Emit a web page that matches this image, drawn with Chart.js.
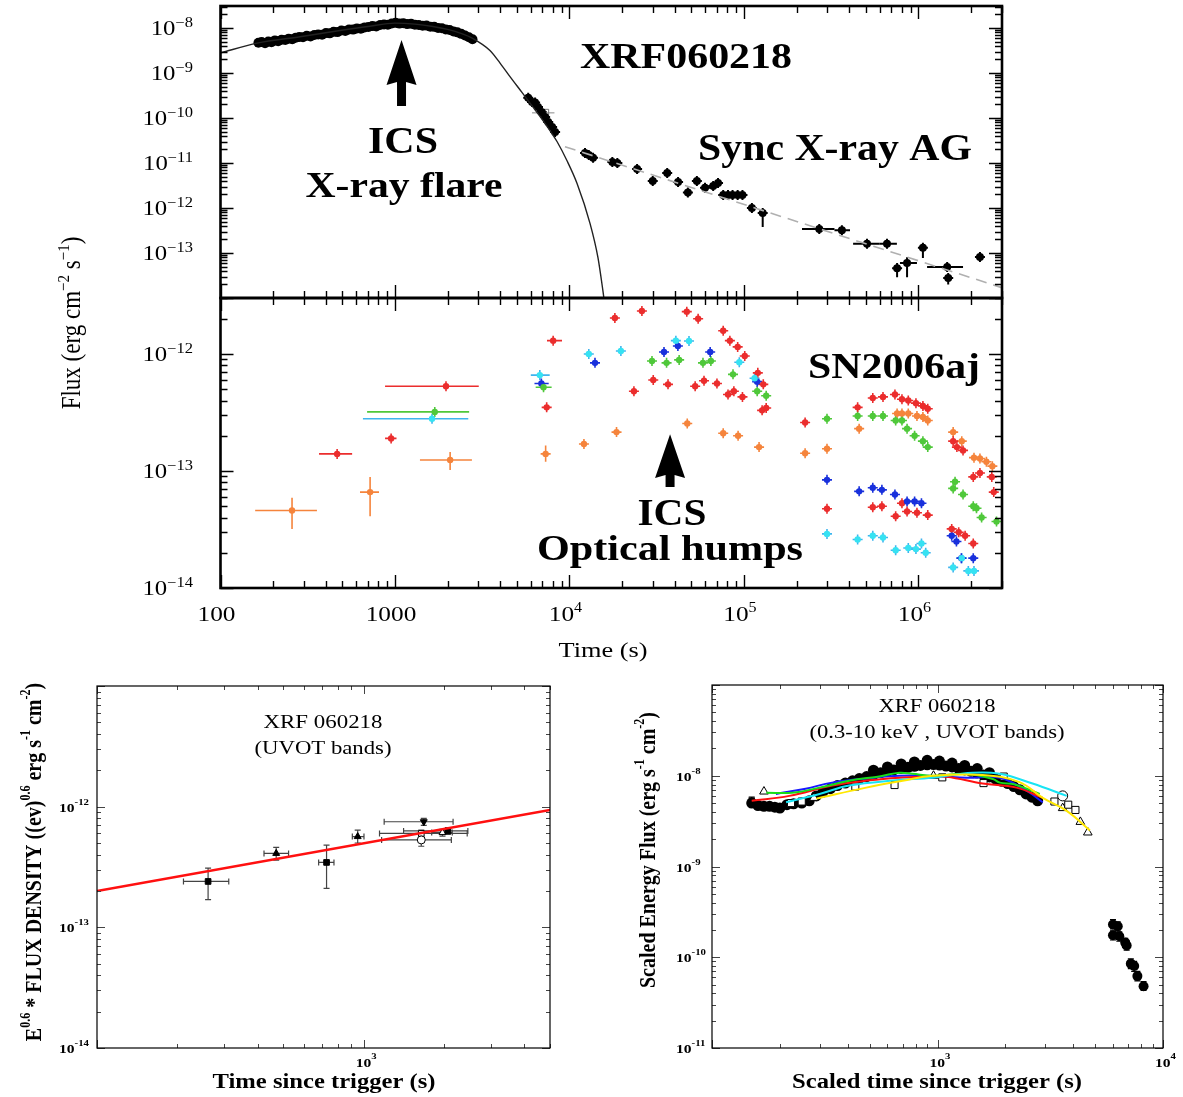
<!DOCTYPE html>
<html>
<head>
<meta charset="utf-8">
<title>XRF060218 / SN2006aj</title>
<script src="https://cdn.jsdelivr.net/npm/chart.js@4.4.1/dist/chart.umd.min.js"></script>
<style>
  html, body { margin: 0; padding: 0; background: #fff; }
  #fig { position: relative; width: 1183px; height: 1097px; overflow: hidden; }
  #fig canvas { position: absolute; left: 0; top: 0; }
</style>
</head>
<body>
<div id="fig">
  <canvas id="xray" width="1183" height="1097"></canvas>
  <canvas id="optical" width="1183" height="1097"></canvas>
  <canvas id="uvot" width="1183" height="1097"></canvas>
  <canvas id="scaled" width="1183" height="1097"></canvas>
</div>
<script>
// ---- top panel, upper part: X-ray light curve (time s, flux erg/cm2/s) ----
const flareT = [165,172,180,188,196,205,214,224,235,246,258,270,283,297,312,328,345,363,382,402,423,445,468,493,519,546,575,605,637,670,705,742,781,822,865,910,958,1008,1060,1116,1174,1236,1300,1368,1440,1515,1594,1677,1765,1857,1954,2056,2163,2276,2395,2520,2650,2780];
const flareF = [4.7e-9,4.9e-9,4.6e-9,5.0e-9,4.8e-9,5.3e-9,5.1e-9,5.5e-9,5.4e-9,5.8e-9,5.6e-9,6.1e-9,6.3e-9,6.2e-9,6.7e-9,6.5e-9,7.0e-9,7.2e-9,7.1e-9,7.7e-9,7.6e-9,8.2e-9,8.1e-9,8.8e-9,8.6e-9,9.3e-9,9.2e-9,9.8e-9,9.6e-9,1.03e-8,1.05e-8,1.1e-8,1.08e-8,1.16e-8,1.2e-8,1.18e-8,1.26e-8,1.3e-8,1.25e-8,1.28e-8,1.22e-8,1.24e-8,1.18e-8,1.17e-8,1.12e-8,1.13e-8,1.07e-8,1.06e-8,1.0e-8,9.9e-9,9.3e-9,9.0e-9,8.4e-9,8.0e-9,7.4e-9,6.8e-9,6.2e-9,5.6e-9];
const flareFitT = [100,162,286,484,700,1000,1300,1650,2000,2360,2800,3500,4000,4560,5340,6180,7240,8480,9680,11050,13120,14560,15560,16500];
const flareFitF = [2.8e-9,4.6e-9,6.4e-9,8.8e-9,1.08e-8,1.28e-8,1.22e-8,1.08e-8,9.3e-9,7.7e-9,5.8e-9,3.16e-9,1.66e-9,8.3e-10,3.7e-10,1.74e-10,7.6e-11,3.0e-11,1.12e-11,3.5e-12,4.5e-13,7.9e-14,1.4e-14,2.5e-15];
const agFitT = [9420, 3.0e6];
const agFitF = [2.3e-11, 1.7e-14];
// [t, F, tLo, tHi, FLo, FHi]
const xrayLate = [
  [5800,2.8e-10],[6100,2.27e-10],[6350,2.2e-10],[6600,1.75e-10],[6950,1.35e-10],[7250,1.05e-10],[7550,8.1e-11],[7950,6.3e-11],[8270,4.9e-11],
  [12270,1.66e-11],[12900,1.5e-11],[13650,1.3e-11],[17600,1.05e-11],[18800,1.0e-11],[24400,7.4e-12],[30000,4.0e-12],[36300,6.0e-12],
  [41900,3.8e-12],[47700,2.2e-12,null,null,1.7e-12,2.8e-12],[53700,4.0e-12],[59800,2.8e-12],[66600,3.1e-12],[71000,3.6e-12],
  [76000,1.95e-12],[81000,1.95e-12],[86000,1.95e-12],[92000,1.95e-12],[98000,1.95e-12],[111000,1.0e-12],
  [128000,7.7e-13,null,null,3.8e-13,1.0e-12],[270000,3.4e-13,215000,330000],[364000,3.2e-13,330000,405000],
  [507000,1.6e-13,422000,600000],[660000,1.6e-13,600000,752000],[754000,4.6e-14,null,null,2.9e-14,6.0e-14],
  [860000,6.0e-14,783000,980000,2.9e-14,8.0e-14],[1.06e6,1.3e-13,null,null,7.7e-14,1.66e-13],
  [1.46e6,4.9e-14,1.12e6,1.8e6],[1.48e6,2.8e-14,null,null,2.0e-14,3.5e-14],[2.25e6,8.1e-14]
];
const xrayOpen = [[7250,1.3e-10,6100,8200]];
const arrowXray = {t: 1090, tip: 5.4e-9, head: 5.4e-10, tail: 1.85e-10};

// ---- top panel, lower part: optical light curves of SN2006aj ----
const uvRed = [
  [466,1.4e-13,367,568],[950,1.9e-13,877,1020],[1960,5.3e-13,877,3020],[7400,3.5e-13],[8060,1.3e-12,7430,9060],
  [18200,2.03e-12],[23400,4.8e-13],[26000,2.33e-12],[30200,6.0e-13],[36700,5.5e-13],[47000,2.3e-12],[52500,5.3e-13],
  [54600,2.0e-12],[59000,5.9e-13],[70000,5.6e-13],[76000,1.58e-12],[81000,4.5e-13],[83000,1.3e-12],[87500,4.8e-13],
  [92000,1.15e-12],[98000,4.3e-13],[101000,9.6e-13],[120000,6.9e-13],[127000,3.3e-13],[129000,5.5e-13],[134000,3.45e-13],
  [224000,2.6e-13],[448000,3.5e-13],[547000,4.2e-13],[626000,4.3e-13],[733000,4.5e-13],[804000,4.1e-13],[874000,4.0e-13],
  [967000,3.8e-13],[1.06e6,3.6e-13],[1.13e6,3.4e-13],
  [299000,4.75e-14],[547000,4.9e-14],[617000,5.0e-14],[740000,4.1e-14],[804000,5.3e-14],[860000,4.5e-14],[980000,4.4e-14],[1.13e6,4.2e-14],
  [1.58e6,1.8e-13],[1.66e6,1.6e-13],[1.8e6,1.5e-13],[2.06e6,8.9e-14],[2.25e6,9.6e-14],[2.63e6,8.9e-14],[2.7e6,6.6e-14],
  [1.55e6,3.2e-14],[1.7e6,3.0e-14],[1.85e6,2.8e-14],[2.06e6,2.4e-14]
];
const uvOrange = [
  [257,4.6e-14,158,357,3.2e-14,5.9e-14],[720,6.6e-14,630,810,4.1e-14,8.9e-14],[2070,1.24e-13,1390,2760,1.02e-13,1.45e-13],
  [7300,1.4e-13,null,null,1.2e-13,1.65e-13],[12100,1.7e-13],[18600,2.15e-13],[47300,2.55e-13],[76000,2.1e-13],[92500,2.0e-13],
  [122000,1.6e-13],[224000,1.42e-13],[299000,1.55e-13],[457000,2.3e-13],[754000,3.1e-13],[804000,3.1e-13],[874000,3.1e-13],
  [980000,2.95e-13],[1.06e6,2.9e-13],[1.13e6,2.7e-13],[1.58e6,2.15e-13],[1.77e6,1.8e-13],[2.08e6,1.3e-13],[2.25e6,1.28e-13],
  [2.45e6,1.2e-13],[2.65e6,1.1e-13]
];
const uvGreen = [
  [1690,3.2e-13,692,2660],[7100,5.2e-13,6400,7900],[29700,8.7e-13],[36000,8.4e-13],[42500,8.9e-13],[58200,8.4e-13],[64600,8.7e-13],
  [86500,6.7e-13],[119000,4.8e-13],[134000,4.4e-13],[299000,2.8e-13],[448000,2.95e-13],[547000,2.95e-13],[626000,2.95e-13],
  [740000,2.7e-13],[804000,2.7e-13],[860000,2.3e-13],[950000,2.0e-13],[1.06e6,1.8e-13],[1.13e6,1.6e-13],
  [1.58e6,7.1e-14],[1.62e6,8.1e-14],[1.8e6,6.3e-14],[2.06e6,5.0e-14],[2.15e6,4.8e-14],[2.3e6,4.0e-14],[2.8e6,3.7e-14]
];
const uvCyan = [
  [1630,2.8e-13,655,2630],[6760,6.6e-13,6000,7700],[12900,1.0e-12],[19700,1.06e-12],[40700,1.3e-12],[48400,1.29e-12],
  [94000,8.5e-13],[115000,6.2e-13],[299000,2.9e-14],[448000,2.6e-14],[547000,2.8e-14],[626000,2.7e-14],[740000,2.1e-14],
  [874000,2.2e-14],[967000,2.15e-14],[1.04e6,2.4e-14],[1.1e6,2.0e-14],[1.58e6,1.5e-14],[1.77e6,1.8e-14],[1.93e6,1.4e-14],[2.08e6,1.4e-14]
];
const uvBlue = [
  [6900,5.6e-13,6300,7600],[14000,8.4e-13],[34800,1.04e-12],[41800,1.17e-12],[64000,1.04e-12],[119000,5.8e-13],
  [299000,8.4e-14],[457000,6.7e-14],[547000,7.2e-14],[617000,6.9e-14],[733000,6.3e-14],[860000,5.5e-14],[950000,5.5e-14],
  [1.04e6,5.3e-14],[1.55e6,2.8e-14],[1.65e6,2.5e-14],[1.76e6,1.8e-14],[2.06e6,1.8e-14]
];
const arrowOptical = {t: 37700, tip: 2.06e-13, head: 8.7e-14, tail: 7.3e-14};

// ---- bottom left: UVOT bands, E^0.6 * flux density ----
const uvotFitT = [100, 5000];
const uvotFitF = [2.0e-13, 9.4e-13];
const uvotSquare = [[261,2.4e-13,211,312,1.7e-13,3.1e-13],[726,3.45e-13,678,774,2.1e-13,4.8e-13],[2070,6.3e-13,1412,2460,5.9e-13,6.7e-13]];
const uvotTriUp = [[470,4.1e-13,423,523,3.6e-13,4.6e-13],[950,5.65e-13,907,1003,5.0e-13,6.4e-13]];
const uvotTriDown = [[1681,7.5e-13,1194,2165,7.0e-13,8.0e-13]];
const uvotOpenCircle = [[1645,5.3e-13,1168,2133,4.7e-13,5.7e-13]];
const uvotOpenSquare = [[1645,6.0e-13,1147,2446,5.6e-13,6.4e-13]];
const uvotOpenTri = [[1976,6.1e-13,1800,2150,5.7e-13,6.5e-13]];

// ---- bottom right: scaled energy flux, 0.3-10 keV and UVOT ----
const bandT = [150,160,170,180,190,200,215,230,250,270,290,310,335,360,390,420,450,485,520,560,600,640,690,740,790,840,900,960,1020,1090,1160,1240,1320,1410,1500,1600,1700,1810,1930,2050,2180,2320,2470,2620,2780];
const bandF = [5.0e-9,4.7e-9,4.6e-9,4.6e-9,4.5e-9,4.4e-9,4.8e-9,4.9e-9,5.0e-9,5.3e-9,6.0e-9,6.6e-9,7.2e-9,7.8e-9,8.3e-9,8.8e-9,9.3e-9,9.8e-9,1.03e-8,1.08e-8,1.12e-8,1.16e-8,1.2e-8,1.24e-8,1.27e-8,1.3e-8,1.32e-8,1.33e-8,1.31e-8,1.28e-8,1.25e-8,1.2e-8,1.16e-8,1.12e-8,1.07e-8,1.02e-8,9.7e-9,9.2e-9,8.7e-9,8.2e-9,7.6e-9,7.0e-9,6.3e-9,5.8e-9,5.3e-9];
const bandTopT = [520,600,690,790,900,1020,1160,1320,1500,1700];
const bandTopF = [1.15e-8,1.25e-8,1.35e-8,1.42e-8,1.48e-8,1.45e-8,1.38e-8,1.3e-8,1.2e-8,1.08e-8];
const lateBlack = [
  [6000,2.3e-10,null,null,2.05e-10,2.6e-10],[6000,1.75e-10,null,null,1.55e-10,1.95e-10],[6300,2.2e-10,null,null,1.95e-10,2.45e-10],
  [6400,1.7e-10,null,null,1.5e-10,1.9e-10],[6800,1.45e-10,null,null,1.28e-10,1.62e-10],[6900,1.35e-10,null,null,1.2e-10,1.5e-10],
  [7200,8.5e-11,null,null,7.5e-11,9.6e-11],[7450,8.0e-11,null,null,7.0e-11,9.0e-11],[7700,6.2e-11,null,null,5.5e-11,7.0e-11],
  [8200,4.8e-11,null,null,4.3e-11,5.4e-11]
];
const scRed = [[150,5.3e-9],[220,6.0e-9],[341,7.8e-9],[500,8.9e-9],[678,9.5e-9],[900,9.8e-9],[1100,9.75e-9],[1585,8.2e-9],[2240,7.4e-9],[2930,5.7e-9]];
const scBlue = [[192,6.3e-9],[260,7.2e-9],[341,8.4e-9],[500,9.4e-9],[678,1.0e-8],[1000,9.9e-9],[1345,9.5e-9],[1890,9.5e-9],[2490,6.8e-9],[2930,5.1e-9]];
const scGreen = [[174,6.5e-9],[227,6.5e-9],[300,7.4e-9],[406,8.8e-9],[560,9.9e-9],[678,1.08e-8],[775,1.05e-8],[950,1.0e-8],[1345,1.05e-8],[1760,9.2e-9],[1890,8.4e-9],[2200,8.0e-9],[2840,6.3e-9]];
const scCyan = [[213,5.1e-9],[300,6.3e-9],[406,7.8e-9],[650,8.9e-9],[950,9.5e-9],[1430,1.08e-8],[1890,1.05e-8],[2640,8.2e-9],[3740,6.0e-9]];
const scYellow = [[290,5.6e-9],[483,7.4e-9],[700,8.8e-9],[950,1.0e-8],[1585,1.02e-8],[2310,8.5e-9],[2930,5.7e-9],[3740,4.1e-9],[4740,2.5e-9]];
const scOpenSquare = [[224,5.0e-9],[250,5.2e-9],[432,7.6e-9],[645,7.9e-9],[1050,9.6e-9],[1600,8.3e-9],[1966,9.8e-9],[3300,5.2e-9],[3800,4.8e-9],[4090,4.2e-9]];
const scOpenTri = [[170,6.7e-9],[283,5.7e-9],[960,1.0e-8],[3590,4.4e-9],[4300,3.1e-9],[4640,2.37e-9]];
const scOpenCircle = [[3590,6.0e-9]];
const scSquare = [[150,5.3e-9,null,null,4.9e-9,5.8e-9]];

// ---------------- helpers ----------------
const W = 1183, H = 1097;
const SERIF = '"Liberation Serif", "Times New Roman", serif';
const zip = (t, f) => t.map((v, i) => ({x: v, y: f[i]}));
const pts = rows => rows.map(r => ({x: r[0], y: r[1], xl: r[2], xh: r[3], yl: r[4], yh: r[5]}));

// text made of runs [text, size, weight, rise]; the figure is a little stretched sideways
function rich(ctx, parts, x, y, o) {
  ctx.save();
  ctx.fillStyle = '#000';
  ctx.textBaseline = 'alphabetic';
  const fonts = parts.map(p => (p[2] || 'normal') + ' ' + p[1] + 'px ' + SERIF);
  let w = 0;
  const ws = parts.map((p, i) => { ctx.font = fonts[i]; const m = ctx.measureText(p[0]).width; w += m; return m; });
  const sx = o.w ? o.w / w : (o.sx || 1);
  ctx.translate(x, y);
  ctx.scale(sx, 1);
  if (o.rot) ctx.rotate(o.rot);
  let cx = o.align === 'center' ? -w / 2 : o.align === 'right' ? -w : 0;
  parts.forEach((p, i) => { ctx.font = fonts[i]; ctx.fillText(p[0], cx, -(p[3] || 0)); cx += ws[i]; });
  ctx.restore();
}

function drawArrow(chart, a, headHalf, shaftHalf) {
  const ctx = chart.ctx, xs = chart.scales.x, ys = chart.scales.y;
  const x = xs.getPixelForValue(a.t), tip = ys.getPixelForValue(a.tip);
  const head = ys.getPixelForValue(a.head), tail = ys.getPixelForValue(a.tail);
  ctx.save();
  ctx.fillStyle = '#000';
  ctx.beginPath();
  ctx.moveTo(x, tip);
  ctx.lineTo(x + headHalf, head);
  ctx.lineTo(x + shaftHalf, head - 3);
  ctx.lineTo(x + shaftHalf, tail);
  ctx.lineTo(x - shaftHalf, tail);
  ctx.lineTo(x - shaftHalf, head - 3);
  ctx.lineTo(x - headHalf, head);
  ctx.closePath();
  ctx.fill();
  ctx.restore();
}

function logTicks(min, max) {
  const out = [];
  for (let d = Math.floor(Math.log10(min)); d <= Math.ceil(Math.log10(max)); d++) {
    for (let m = 1; m <= 9; m++) {
      const v = m * Math.pow(10, d);
      if (v >= min * 0.999 && v <= max * 1.001) out.push({v, major: m === 1});
    }
  }
  return out;
}

// error bars (and small crosses) drawn under the points
const errorBars = {
  id: 'errorBars',
  beforeDatasetsDraw(chart) {
    const {ctx, chartArea: a} = chart;
    const xs = chart.scales.x, ys = chart.scales.y;
    ctx.save();
    ctx.beginPath();
    ctx.rect(a.left, a.top, a.right - a.left, a.bottom - a.top);
    ctx.clip();
    chart.data.datasets.forEach(ds => {
      if (!ds.errColor) return;
      ctx.strokeStyle = ds.errColor;
      ctx.lineWidth = ds.errWidth || 1;
      const cap = ds.errCap || 0, arm = ds.cross || 0;
      ds.data.forEach(p => {
        const px = xs.getPixelForValue(p.x), py = ys.getPixelForValue(p.y);
        ctx.beginPath();
        if (arm) {
          ctx.moveTo(px - arm, py); ctx.lineTo(px + arm, py);
          ctx.moveTo(px, py - arm); ctx.lineTo(px, py + arm);
        }
        if (p.xl) {
          const l = xs.getPixelForValue(p.xl), r = xs.getPixelForValue(p.xh);
          ctx.moveTo(l, py); ctx.lineTo(r, py);
          if (cap) { ctx.moveTo(l, py - cap); ctx.lineTo(l, py + cap); ctx.moveTo(r, py - cap); ctx.lineTo(r, py + cap); }
        }
        if (p.yl) {
          const b = ys.getPixelForValue(p.yl), t = ys.getPixelForValue(p.yh);
          ctx.moveTo(px, b); ctx.lineTo(px, t);
          if (cap) { ctx.moveTo(px - cap, b); ctx.lineTo(px + cap, b); ctx.moveTo(px - cap, t); ctx.lineTo(px + cap, t); }
        }
        ctx.stroke();
      });
    });
    ctx.restore();
  }
};

// frame with inward ticks on all four sides
function framePlugin(o) {
  return {
    id: 'frame',
    afterDatasetsDraw(chart) {
      const {ctx, chartArea: a} = chart;
      const xs = chart.scales.x, ys = chart.scales.y;
      ctx.save();
      ctx.strokeStyle = o.tickColor;
      ctx.lineWidth = o.tickWidth;
      ctx.beginPath();
      logTicks(xs.min, xs.max).forEach(t => {
        const px = Math.round(xs.getPixelForValue(t.v)) + 0.5, L = t.major ? o.major : o.minor;
        ctx.moveTo(px, a.bottom); ctx.lineTo(px, a.bottom - L);
        ctx.moveTo(px, a.top); ctx.lineTo(px, a.top + L);
      });
      logTicks(ys.min, ys.max).forEach(t => {
        const py = Math.round(ys.getPixelForValue(t.v)) + 0.5, L = t.major ? o.major : o.minor;
        ctx.moveTo(a.left, py); ctx.lineTo(a.left + L, py);
        ctx.moveTo(a.right, py); ctx.lineTo(a.right - L, py);
      });
      ctx.stroke();
      ctx.strokeStyle = o.frameColor;
      ctx.lineWidth = o.frameWidth;
      ctx.strokeRect(a.left, a.top, a.right - a.left, a.bottom - a.top);
      ctx.restore();
    }
  };
}

function makeChart(id, area, xr, yr, datasets, plugins) {
  return new Chart(document.getElementById(id), {
    type: 'scatter',
    data: {datasets},
    options: {
      responsive: false,
      animation: false,
      events: [],
      layout: {padding: {left: area.l, top: area.t, right: W - area.r, bottom: H - area.b}},
      scales: {
        x: {type: 'logarithmic', min: xr[0], max: xr[1], display: false},
        y: {type: 'logarithmic', min: yr[0], max: yr[1], display: false}
      },
      plugins: {legend: {display: false}, tooltip: {enabled: false}}
    },
    plugins: [errorBars].concat(plugins)
  });
}

const topFrame = {tickColor: '#000', tickWidth: 1.4, major: 13, minor: 7, frameColor: '#000', frameWidth: 2.6};
const lowFrame = {tickColor: '#444', tickWidth: 1, major: 8, minor: 4, frameColor: '#000', frameWidth: 1.2};

// ---------------- top panel, upper part ----------------
makeChart('xray', {l: 220.5, r: 1002, t: 6, b: 298}, [100, 3.01e6], [1e-14, 3.08e-8], [
  {data: zip(flareFitT, flareFitF), showLine: true, borderColor: '#222', borderWidth: 1.4, pointRadius: 0, cubicInterpolationMode: 'monotone'},
  {data: zip(agFitT, agFitF), showLine: true, borderColor: '#b0b0b0', borderWidth: 1.6, borderDash: [11, 7], pointRadius: 0},
  {data: zip(flareT, flareF), pointRadius: 5, backgroundColor: '#000', borderWidth: 0},
  {data: pts(xrayLate), pointRadius: 4, backgroundColor: '#000', borderWidth: 0, errColor: '#000', errWidth: 2, cross: 5},
  {data: pts(xrayOpen), pointStyle: 'rect', pointRadius: 5, backgroundColor: 'rgba(255,255,255,0)', borderColor: '#777', borderWidth: 1, errColor: '#888', errWidth: 1}
], [framePlugin(topFrame), {
  id: 'xrayLabels',
  afterDraw(chart) {
    const ctx = chart.ctx, ys = chart.scales.y;
    for (let d = -13; d <= -8; d++) {
      const py = ys.getPixelForValue(Math.pow(10, d));
      rich(ctx, [['10', 21], ['\u2212' + (-d), 14, 'normal', 8]], 193, py + 7, {align: 'right', sx: 1.18});
    }
    rich(ctx, [['XRF060218', 35, 'bold']], 686, 68, {align: 'center', w: 212});
    rich(ctx, [['ICS', 38, 'bold']], 403, 153, {align: 'center', w: 70});
    rich(ctx, [['X-ray flare', 36, 'bold']], 404, 197, {align: 'center', w: 197});
    rich(ctx, [['Sync X-ray AG', 37, 'bold']], 835, 160, {align: 'center', w: 274});
    drawArrow(chart, arrowXray, 15, 4.5);
    // shared y title of the top figure
    rich(ctx, [['Flux (erg cm', 23], ['\u22122', 15, 'normal', 9], [' s', 23], ['\u22121', 15, 'normal', 9], [')', 23]],
      80, 323, {align: 'center', rot: -Math.PI / 2, sx: 1.18});
  }
}]);

// ---------------- top panel, lower part ----------------
const optStyle = c => ({pointRadius: 3.2, backgroundColor: c, borderWidth: 0, errColor: c, errWidth: 1.6, cross: 5});
makeChart('optical', {l: 220.5, r: 1002, t: 298, b: 588}, [100, 3.01e6], [1e-14, 3.01e-12], [
  Object.assign({data: pts(uvOrange)}, optStyle('#f5843c')),
  Object.assign({data: pts(uvCyan)}, optStyle('#36e2f2'), {errColor: '#3fb4ee'}),
  Object.assign({data: pts(uvGreen)}, optStyle('#4fc83a')),
  Object.assign({data: pts(uvBlue)}, optStyle('#1830dc')),
  Object.assign({data: pts(uvRed)}, optStyle('#eb2d2d'))
], [framePlugin(topFrame), {
  id: 'opticalLabels',
  afterDraw(chart) {
    const ctx = chart.ctx, xs = chart.scales.x, ys = chart.scales.y;
    for (let d = -14; d <= -12; d++) {
      const py = ys.getPixelForValue(Math.pow(10, d));
      rich(ctx, [['10', 21], ['\u2212' + (-d), 14, 'normal', 8]], 193, py + 7, {align: 'right', sx: 1.18});
    }
    for (let d = 2; d <= 6; d++) {
      const px = xs.getPixelForValue(Math.pow(10, d)) - 4;
      const parts = d === 2 ? [['100', 22]] : d === 3 ? [['1000', 22]] : [['10', 22], [String(d), 14, 'normal', 9]];
      rich(ctx, parts, px, 621, {align: 'center', sx: 1.15});
    }
    rich(ctx, [['Time (s)', 22]], 603, 657, {align: 'center', w: 89});
    rich(ctx, [['SN2006aj', 35, 'bold']], 894, 378, {align: 'center', w: 172});
    rich(ctx, [['ICS', 38, 'bold']], 672, 525, {align: 'center', w: 69});
    rich(ctx, [['Optical humps', 35, 'bold']], 670, 560, {align: 'center', w: 266});
    drawArrow(chart, arrowOptical, 15, 4.5);
  }
}]);

// ---------------- bottom left: UVOT ----------------
const uvMark = (style, fill, rot) => ({pointStyle: style, pointRadius: 4, pointRotation: rot || 0, backgroundColor: fill, borderColor: '#000', borderWidth: 1, errColor: '#444', errWidth: 1.2, errCap: 3});
makeChart('uvot', {l: 97, r: 550, t: 686, b: 1048}, [100, 5000], [1e-14, 1e-11], [
  {data: zip(uvotFitT, uvotFitF), showLine: true, borderColor: '#ff1010', borderWidth: 2.6, pointRadius: 0},
  Object.assign({data: pts(uvotSquare)}, uvMark('rect', '#000')),
  Object.assign({data: pts(uvotTriUp)}, uvMark('triangle', '#000')),
  Object.assign({data: pts(uvotTriDown)}, uvMark('triangle', '#000', 180)),
  Object.assign({data: pts(uvotOpenCircle)}, uvMark('circle', '#fff')),
  Object.assign({data: pts(uvotOpenSquare)}, uvMark('rect', '#fff')),
  Object.assign({data: pts(uvotOpenTri)}, uvMark('triangle', '#fff'))
], [framePlugin(lowFrame), {
  id: 'uvotLabels',
  afterDraw(chart) {
    const ctx = chart.ctx, xs = chart.scales.x, ys = chart.scales.y;
    for (let d = -14; d <= -12; d++) {
      const py = ys.getPixelForValue(Math.pow(10, d));
      rich(ctx, [['10', 13, 'bold'], ['-' + (-d), 9, 'bold', 7]], 59, py + 5, {sx: 1.2});
    }
    rich(ctx, [['10', 13, 'bold'], ['3', 9, 'bold', 8]], xs.getPixelForValue(1000) - 8, 1067, {sx: 1.2});
    rich(ctx, [['XRF 060218', 19]], 323, 728, {align: 'center', w: 119});
    rich(ctx, [['(UVOT bands)', 19]], 323, 754, {align: 'center', w: 137});
    rich(ctx, [['Time since trigger (s)', 20, 'bold']], 324, 1088, {align: 'center', w: 223});
    rich(ctx, [['E', 20, 'bold'], ['0.6', 12, 'bold', 9], [' * FLUX DENSITY ((ev)', 20, 'bold'], ['0.6', 12, 'bold', 9],
      [' erg s', 20, 'bold'], ['-1', 12, 'bold', 9], [' cm', 20, 'bold'], ['-2', 12, 'bold', 9], [')', 20, 'bold']],
      41, 862, {align: 'center', rot: -Math.PI / 2, sx: 1.2});
  }
}]);

// ---------------- bottom right: scaled flux ----------------
const scLine = c => ({showLine: true, borderColor: c, borderWidth: 2, pointRadius: 0, tension: 0.4});
const scOpen = style => ({pointStyle: style, pointRadius: 5, backgroundColor: '#fff', borderColor: '#000', borderWidth: 1});
makeChart('scaled', {l: 712, r: 1163, t: 685, b: 1048}, [100, 1e4], [1e-11, 1e-7], [
  Object.assign({data: zip(scYellow.map(r => r[0]), scYellow.map(r => r[1]))}, scLine('#ffe800')),
  Object.assign({data: zip(scCyan.map(r => r[0]), scCyan.map(r => r[1]))}, scLine('#18e4f4')),
  Object.assign({data: zip(scGreen.map(r => r[0]), scGreen.map(r => r[1]))}, scLine('#18dc18')),
  Object.assign({data: zip(scRed.map(r => r[0]), scRed.map(r => r[1]))}, scLine('#ff1010')),
  Object.assign({data: zip(scBlue.map(r => r[0]), scBlue.map(r => r[1]))}, scLine('#1818ff')),
  Object.assign({data: pts(scOpenSquare)}, scOpen('rect')),
  Object.assign({data: pts(scOpenTri)}, scOpen('triangle')),
  Object.assign({data: pts(scOpenCircle)}, scOpen('circle')),
  {data: pts(scSquare), pointStyle: 'rect', pointRadius: 4.5, backgroundColor: '#000', borderWidth: 0, errColor: '#000', errWidth: 1.2, errCap: 3},
  {data: zip(bandTopT, bandTopF), pointRadius: 5.5, backgroundColor: '#000', borderWidth: 0},
  {data: zip(bandT, bandF), pointRadius: 5.5, backgroundColor: '#000', borderWidth: 0},
  {data: pts(lateBlack), pointRadius: 5, backgroundColor: '#000', borderWidth: 0, errColor: '#000', errWidth: 1.2, errCap: 3}
], [framePlugin(lowFrame), {
  id: 'scaledLabels',
  afterDraw(chart) {
    const ctx = chart.ctx, xs = chart.scales.x, ys = chart.scales.y;
    for (let d = -11; d <= -8; d++) {
      const py = ys.getPixelForValue(Math.pow(10, d));
      rich(ctx, [['10', 13, 'bold'], ['-' + (-d), 9, 'bold', 7]], 676, py + 5, {sx: 1.2});
    }
    rich(ctx, [['10', 13, 'bold'], ['3', 9, 'bold', 8]], xs.getPixelForValue(1000) - 8, 1067, {sx: 1.2});
    rich(ctx, [['10', 13, 'bold'], ['4', 9, 'bold', 8]], xs.getPixelForValue(10000) - 8, 1067, {sx: 1.2});
    rich(ctx, [['XRF 060218', 19]], 937, 712, {align: 'center', w: 117});
    rich(ctx, [['(0.3-10 keV , UVOT bands)', 19]], 937, 738, {align: 'center', w: 255});
    rich(ctx, [['Scaled time since trigger (s)', 20, 'bold']], 937, 1088, {align: 'center', w: 290});
    rich(ctx, [['Scaled Energy Flux (erg s', 20, 'bold'], ['-1', 12, 'bold', 9], [' cm', 20, 'bold'], ['-2', 12, 'bold', 9], [')', 20, 'bold']],
      655, 850, {align: 'center', rot: -Math.PI / 2, sx: 1.2});
  }
}]);
</script>
</body>
</html>
